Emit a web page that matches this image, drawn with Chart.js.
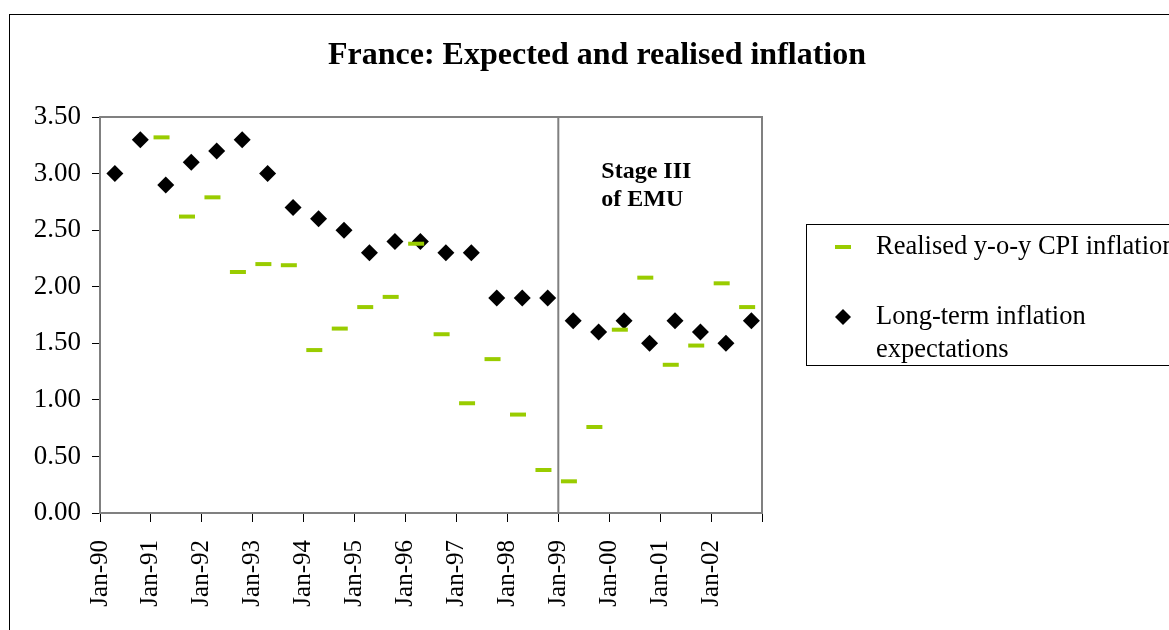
<!DOCTYPE html>
<html>
<head>
<meta charset="utf-8">
<title>France: Expected and realised inflation</title>
<script src="https://cdn.jsdelivr.net/npm/chart.js@4.4.1/dist/chart.umd.min.js"></script>
<style>
  html, body { margin: 0; padding: 0; background: #fff; }
  canvas { display: block; }
</style>
</head>
<body>
<canvas id="chart" width="1169" height="630"></canvas>
<script>
const chartTitle = 'France: Expected and realised inflation';
const seriesNames = ['Realised y-o-y CPI inflation', 'Long-term inflation expectations'];

// x axis ticks, one per January
const xTickLabels = ['Jan-90', 'Jan-91', 'Jan-92', 'Jan-93', 'Jan-94', 'Jan-95', 'Jan-96',
    'Jan-97', 'Jan-98', 'Jan-99', 'Jan-00', 'Jan-01', 'Jan-02'];
const yTickLabels = ['0.00', '0.50', '1.00', '1.50', '2.00', '2.50', '3.00', '3.50'];

// realised inflation, observed in March and September
const realisedDates = ['Mar-91', 'Sep-91', 'Mar-92', 'Sep-92', 'Mar-93', 'Sep-93', 'Mar-94', 'Sep-94',
    'Mar-95', 'Sep-95', 'Mar-96', 'Sep-96', 'Mar-97', 'Sep-97', 'Mar-98', 'Sep-98',
    'Mar-99', 'Sep-99', 'Mar-00', 'Sep-00', 'Mar-01', 'Sep-01', 'Mar-02', 'Sep-02'];
const realisedValues = [3.32, 2.62, 2.79, 2.13, 2.20, 2.19, 1.44, 1.63,
    1.82, 1.91, 2.38, 1.58, 0.97, 1.36, 0.87, 0.38,
    0.28, 0.76, 1.62, 2.08, 1.31, 1.48, 2.03, 1.82];

// long-term expectations, surveyed in April and October
const expectedDates = ['Apr-90', 'Oct-90', 'Apr-91', 'Oct-91', 'Apr-92', 'Oct-92', 'Apr-93', 'Oct-93',
    'Apr-94', 'Oct-94', 'Apr-95', 'Oct-95', 'Apr-96', 'Oct-96', 'Apr-97', 'Oct-97',
    'Apr-98', 'Oct-98', 'Apr-99', 'Oct-99', 'Apr-00', 'Oct-00', 'Apr-01', 'Oct-01',
    'Apr-02', 'Oct-02'];
const expectedValues = [3.0, 3.3, 2.9, 3.1, 3.2, 3.3, 3.0, 2.7,
    2.6, 2.5, 2.3, 2.4, 2.4, 2.3, 2.3, 1.9,
    1.9, 1.9, 1.7, 1.6, 1.7, 1.5, 1.7, 1.6,
    1.5, 1.7];

const stageThreeStart = 'Jan-99';
const stageThreeText = ['Stage III', 'of EMU'];

const green = '#99CC00';
const axisGrey = '#808080';
const serif = '"Liberation Serif", "Times New Roman", serif';

const monthNames = ['Jan', 'Feb', 'Mar', 'Apr', 'May', 'Jun', 'Jul', 'Aug', 'Sep', 'Oct', 'Nov', 'Dec'];

// 'Mar-91' -> 1991.21 (middle of the month)
function toYear(label) {
    const parts = label.split('-');
    const yy = parseInt(parts[1], 10);
    const year = yy < 50 ? 2000 + yy : 1900 + yy;
    return year + (monthNames.indexOf(parts[0]) + 0.5) / 12;
}
function januaryOf(label) {
    const yy = parseInt(label.split('-')[1], 10);
    return yy < 50 ? 2000 + yy : 1900 + yy;
}

const realisedPoints = realisedDates.map((d, i) => ({ x: toYear(d), y: realisedValues[i] }));
const expectedPoints = expectedDates.map((d, i) => ({ x: toYear(d), y: expectedValues[i] }));
const firstYear = januaryOf(xTickLabels[0]);

// frame, title, plot border, EMU line and the boxed legend
const decorations = {
    id: 'decorations',
    beforeDatasetsDraw(chart) {
        const ctx = chart.ctx;
        const area = chart.chartArea;
        const x = chart.scales.x.getPixelForValue(januaryOf(stageThreeStart));
        ctx.save();
        ctx.strokeStyle = axisGrey;
        ctx.lineWidth = 2;
        ctx.beginPath();
        ctx.moveTo(area.left, area.top);
        ctx.lineTo(area.right, area.top);
        ctx.lineTo(area.right, area.bottom);
        ctx.moveTo(x, area.top);
        ctx.lineTo(x, area.bottom);
        ctx.stroke();

        ctx.fillStyle = '#000';
        ctx.font = 'bold 24px ' + serif;
        ctx.textAlign = 'left';
        ctx.textBaseline = 'middle';
        ctx.fillText(stageThreeText[0], x + 43, 172);
        ctx.fillText(stageThreeText[1], x + 43, 200);
        ctx.restore();
    },
    afterDraw(chart) {
        const ctx = chart.ctx;
        ctx.save();
        ctx.strokeStyle = '#000';
        ctx.lineWidth = 1;
        ctx.strokeRect(9.5, 14.5, 1300, 700);

        ctx.fillStyle = '#000';
        ctx.font = 'bold 32px ' + serif;
        ctx.textAlign = 'center';
        ctx.textBaseline = 'middle';
        ctx.fillText(chartTitle, 597, 56);

        // legend
        ctx.strokeRect(806.5, 224.5, 500, 141);
        ctx.font = '26.5px ' + serif;
        ctx.textAlign = 'left';
        ctx.strokeStyle = green;
        ctx.lineWidth = 4;
        ctx.beginPath();
        ctx.moveTo(835, 247);
        ctx.lineTo(851, 247);
        ctx.stroke();
        ctx.fillText(seriesNames[0], 876, 247);

        ctx.fillStyle = '#000';
        ctx.beginPath();
        ctx.moveTo(843, 309);
        ctx.lineTo(851, 317);
        ctx.lineTo(843, 325);
        ctx.lineTo(835, 317);
        ctx.closePath();
        ctx.fill();
        const words = seriesNames[1].split(' ');
        const lines = [];
        let line = '';
        words.forEach(w => {
            const test = line ? line + ' ' + w : w;
            if (ctx.measureText(test).width > 270 && line) {
                lines.push(line);
                line = w;
            } else {
                line = test;
            }
        });
        lines.push(line);
        lines.forEach((l, i) => ctx.fillText(l, 876, 317 + i * 33));
        ctx.restore();
    }
};

new Chart(document.getElementById('chart'), {
    type: 'scatter',
    data: {
        datasets: [{
            label: seriesNames[0],
            data: realisedPoints,
            pointStyle: 'line',
            pointRadius: 8,
            pointHoverRadius: 8,
            borderWidth: 4,
            borderColor: green,
            backgroundColor: green
        }, {
            label: seriesNames[1],
            data: expectedPoints,
            pointStyle: 'rectRot',
            pointRadius: 8.5,
            pointHoverRadius: 8.5,
            borderWidth: 0,
            borderColor: '#000',
            backgroundColor: '#000'
        }]
    },
    options: {
        responsive: false,
        animation: false,
        devicePixelRatio: 1,
        layout: {
            padding: { left: 0, top: 117, right: 407, bottom: 0 }
        },
        plugins: {
            legend: { display: false },
            title: { display: false },
            tooltip: { enabled: false }
        },
        scales: {
            x: {
                type: 'linear',
                min: firstYear,
                max: firstYear + xTickLabels.length,
                afterFit(scale) { scale.height = 117; },
                afterBuildTicks(scale) {
                    const ticks = [];
                    for (let i = 0; i <= xTickLabels.length; i++) ticks.push({ value: firstYear + i });
                    scale.ticks = ticks;
                },
                ticks: {
                    autoSkip: false,
                    minRotation: 90,
                    maxRotation: 90,
                    padding: 18,
                    color: '#000',
                    font: { family: serif, size: 25 },
                    callback: (value, index) => xTickLabels[index] || ''
                },
                grid: {
                    drawOnChartArea: false,
                    tickLength: 9,
                    tickColor: '#000',
                    tickWidth: 1
                },
                border: { color: axisGrey, width: 2 }
            },
            y: {
                min: 0,
                max: 3.5,
                afterFit(scale) { scale.width = 100; },
                ticks: {
                    stepSize: 0.5,
                    padding: 11,
                    color: '#000',
                    font: { family: serif, size: 27 },
                    callback: (value, index) => yTickLabels[index]
                },
                grid: {
                    drawOnChartArea: false,
                    tickLength: 8,
                    tickColor: '#000',
                    tickWidth: 1
                },
                border: { color: axisGrey, width: 2 }
            }
        }
    },
    plugins: [decorations]
});
</script>
</body>
</html>
